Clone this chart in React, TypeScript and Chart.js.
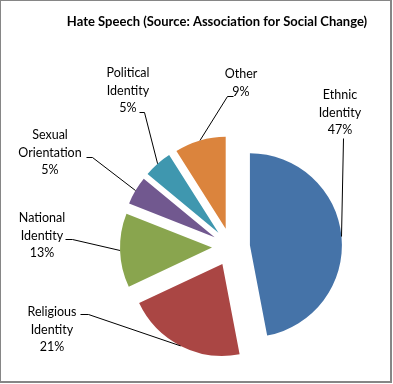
import React, { useEffect, useRef } from "react";
import { Chart, registerables } from "chart.js";

Chart.register(...registerables);

// ---- data ----
const categories = [
  "Ethnic Identity",
  "Religious Identity",
  "National Identity",
  "Sexual Orientation",
  "Political Identity",
  "Other",
];
const values = [47, 21, 13, 5, 5, 9];
const labelLines = [
  ["Ethnic", "Identity"],
  ["Religious", "Identity"],
  ["National", "Identity"],
  ["Sexual", "Orientation"],
  ["Political", "Identity"],
  ["Other"],
];
const chartTitle = "Hate Speech (Source: Association for Social Change)";

// ---- style / layout ----
const colors = ["#4573A8", "#AA4644", "#89A54E", "#71588F", "#3F97AF", "#DB843D"];
const EXPLODE = 19;
const RADIUS = 92;
const FONT = "Lato, 'Open Sans', sans-serif";
const LINE_H = 17.5;
// label text anchors (center x, first line center y)
const labelAnchors = [
  { x: 340, y: 95 },
  { x: 52, y: 312 },
  { x: 42, y: 218 },
  { x: 50, y: 135 },
  { x: 128, y: 73 },
  { x: 241, y: 74 },
];
// leader line starting points near each label
const leaderStarts = [
  [[343, 138]],
  [[80, 314], [88, 314]],
  [[65, 239], [72, 239]],
  [[86, 157], [92, 157]],
  [[139, 112], [144, 112]],
  [[233, 96], [227, 96]],
];

const explodePlugin = {
  id: "explode",
  beforeDatasetDraw(chart: any, args: any) {
    const meta = chart.getDatasetMeta(args.index);
    const ctx = chart.ctx;
    meta.data.forEach((arc: any) => {
      const half = (arc.startAngle + arc.endAngle) / 2;
      ctx.save();
      ctx.translate(Math.cos(half) * EXPLODE, Math.sin(half) * EXPLODE);
      arc.draw(ctx);
      ctx.restore();
    });
    return false;
  },
};

const labelsPlugin = {
  id: "labels",
  afterDraw(chart: any) {
    const ctx = chart.ctx;
    const meta = chart.getDatasetMeta(0);
    const total = values.reduce((a, b) => a + b, 0);
    // frame
    ctx.save();
    ctx.fillStyle = "#868686";
    ctx.fillRect(0, 0, 392, 1);
    ctx.fillRect(0, 0, 1, 383);
    ctx.fillRect(390, 0, 2, 383);
    ctx.fillRect(0, 381, 392, 2);
    // title
    ctx.fillStyle = "#000";
    ctx.textAlign = "center";
    ctx.textBaseline = "middle";
    ctx.font = `bold 13px ${FONT}`;
    ctx.fillText(chartTitle, 217, 22);
    // labels
    ctx.font = `12.5px ${FONT}`;
    meta.data.forEach((arc: any, i: number) => {
      const a = labelAnchors[i];
      const lines = [...labelLines[i], Math.round((values[i] / total) * 100) + "%"];
      lines.forEach((t, k) => ctx.fillText(t, a.x, a.y + k * LINE_H));
      const half = (arc.startAngle + arc.endAngle) / 2;
      const cx = arc.x + Math.cos(half) * EXPLODE;
      const cy = arc.y + Math.sin(half) * EXPLODE;
      const ex = cx + Math.cos(half) * arc.outerRadius;
      const ey = cy + Math.sin(half) * arc.outerRadius;
      ctx.beginPath();
      ctx.strokeStyle = "#000";
      ctx.lineWidth = 1;
      const pts = leaderStarts[i];
      ctx.moveTo(pts[0][0] + 0.5, pts[0][1] + 0.5);
      for (let k = 1; k < pts.length; k++) ctx.lineTo(pts[k][0] + 0.5, pts[k][1] + 0.5);
      ctx.lineTo(ex, ey);
      ctx.stroke();
    });
    ctx.restore();
  },
};

export default function App() {
  const ref = useRef<HTMLCanvasElement>(null);
  useEffect(() => {
    document.body.style.margin = "0";
    const chart = new Chart(ref.current as HTMLCanvasElement, {
      type: "pie",
      data: {
        labels: categories,
        datasets: [
          {
            data: values,
            backgroundColor: colors,
            borderWidth: 0,
            radius: RADIUS,
          } as any,
        ],
      },
      options: {
        animation: false,
        responsive: false,
        layout: { padding: { left: 80, right: 11, top: 120, bottom: 10 } },
        plugins: {
          legend: { display: false },
          title: { display: false },
          tooltip: { enabled: false },
        },
      },
      plugins: [explodePlugin, labelsPlugin],
    });
    return () => chart.destroy();
  }, []);
  return (
    <div style={{ width: 393, height: 384 }}>
      <canvas ref={ref} width={393} height={384} style={{ display: "block" }} />
    </div>
  );
}
